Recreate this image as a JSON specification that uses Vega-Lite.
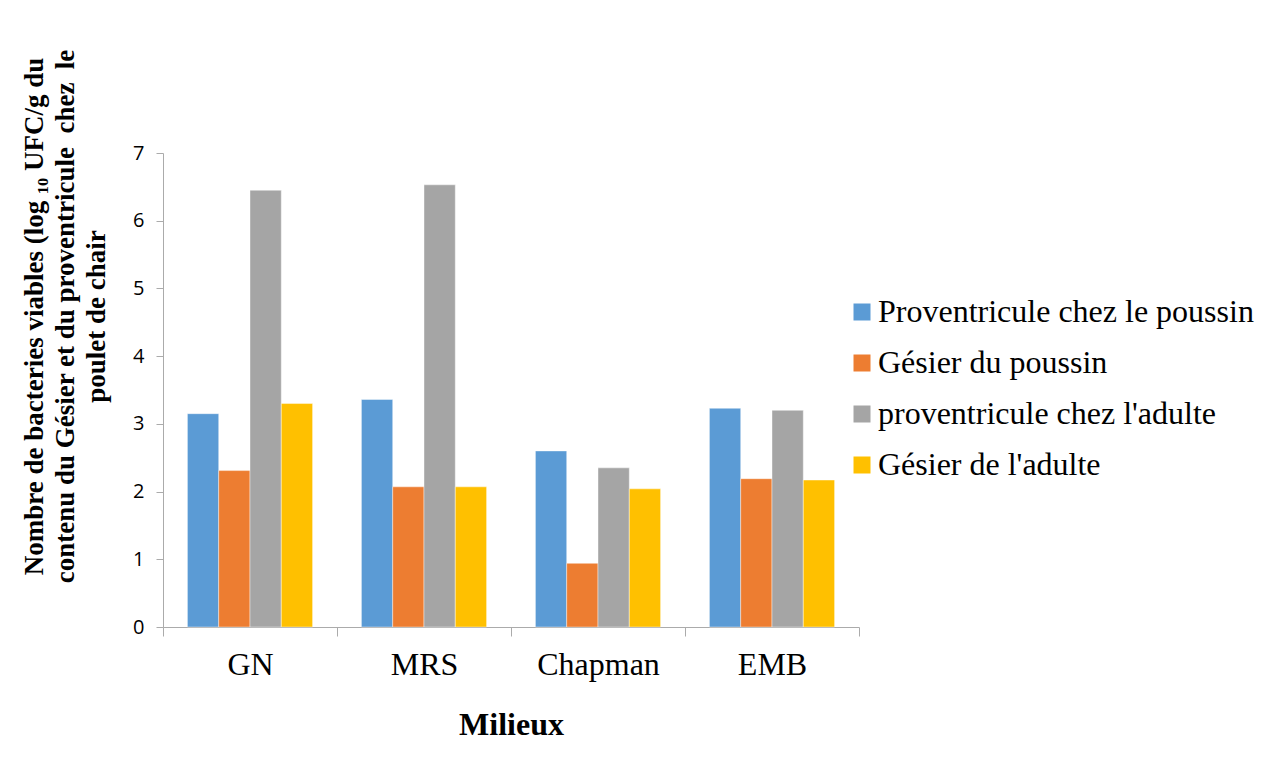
{
  "$schema": "https://vega.github.io/schema/vega-lite/v6.json",
  "width": 696,
  "height": 474,
  "autosize": {"type": "none"},
  "padding": {"left": 163, "top": 153, "right": 411, "bottom": 132},
  "background": "white",
  "data": {
    "values": [
      {"milieu": "GN", "serie": "Proventricule chez le poussin", "valeur": 3.15},
      {"milieu": "GN", "serie": "\u2002Gésier du poussin", "valeur": 2.31},
      {"milieu": "GN", "serie": "proventricule chez l'adulte", "valeur": 6.45},
      {"milieu": "GN", "serie": "Gésier de l'adulte", "valeur": 3.3},
      {"milieu": "MRS", "serie": "Proventricule chez le poussin", "valeur": 3.36},
      {"milieu": "MRS", "serie": "\u2002Gésier du poussin", "valeur": 2.07},
      {"milieu": "MRS", "serie": "proventricule chez l'adulte", "valeur": 6.53},
      {"milieu": "MRS", "serie": "Gésier de l'adulte", "valeur": 2.07},
      {"milieu": "Chapman", "serie": "Proventricule chez le poussin", "valeur": 2.6},
      {"milieu": "Chapman", "serie": "\u2002Gésier du poussin", "valeur": 0.94},
      {"milieu": "Chapman", "serie": "proventricule chez l'adulte", "valeur": 2.35},
      {"milieu": "Chapman", "serie": "Gésier de l'adulte", "valeur": 2.04},
      {"milieu": "EMB", "serie": "Proventricule chez le poussin", "valeur": 3.23},
      {"milieu": "EMB", "serie": "\u2002Gésier du poussin", "valeur": 2.19},
      {"milieu": "EMB", "serie": "proventricule chez l'adulte", "valeur": 3.2},
      {"milieu": "EMB", "serie": "Gésier de l'adulte", "valeur": 2.17}
    ]
  },
  "mark": {"type": "bar", "stroke": "white", "strokeWidth": 0.6, "strokeOpacity": 0.7},
  "encoding": {
    "x": {
      "field": "milieu",
      "type": "nominal",
      "sort": ["GN", "MRS", "Chapman", "EMB"],
      "scale": {"paddingInner": 0, "paddingOuter": 0},
      "title": "Milieux",
      "axis": {
        "labelAngle": 0,
        "labelFont": "Liberation Serif",
        "labelFontSize": 32,
        "labelColor": "black",
        "labelPadding": 13,
        "labelBaseline": "top",
        "tickBand": "extent",
        "tickSize": 9,
        "tickColor": "#ABABAB",
        "domainColor": "#ABABAB",
        "titleFont": "Liberation Serif",
        "titleFontSize": 32,
        "titleFontWeight": "bold",
        "titleColor": "black",
        "titleBaseline": "alphabetic",
        "titleY": 107
      }
    },
    "xOffset": {
      "field": "serie",
      "type": "nominal",
      "sort": ["Proventricule chez le poussin", "\u2002Gésier du poussin", "proventricule chez l'adulte", "Gésier de l'adulte"],
      "scale": {"paddingInner": 0, "paddingOuter": 0.78}
    },
    "y": {
      "field": "valeur",
      "type": "quantitative",
      "scale": {"domain": [0, 7]},
      "title": [
        "Nombre de bacteries viables (log ₁₀ UFC/g du",
        "contenu du Gésier et du proventricule\u00a0 chez\u00a0 le",
        "poulet de chair"
      ],
      "axis": {
        "values": [0, 1, 2, 3, 4, 5, 6, 7],
        "grid": false,
        "labelFont": "Open Sans",
        "labelFontSize": 20,
        "labelColor": "black",
        "labelPadding": 12,
        "tickSize": 7,
        "tickColor": "#ABABAB",
        "domainColor": "#ABABAB",
        "titleFont": "Liberation Serif",
        "titleFontSize": 27,
        "titleFontWeight": "bold",
        "titleColor": "black",
        "titleLineHeight": 31,
        "titleAngle": 270,
        "titleAlign": "center",
        "titleBaseline": "alphabetic",
        "titleX": -121,
        "titleY": 163
      }
    },
    "color": {
      "field": "serie",
      "type": "nominal",
      "scale": {
        "domain": ["Proventricule chez le poussin", "\u2002Gésier du poussin", "proventricule chez l'adulte", "Gésier de l'adulte"],
        "range": ["#5B9BD5", "#ED7D31", "#A5A5A5", "#FFC000"]
      },
      "legend": {
        "title": null,
        "orient": "none",
        "legendX": 683,
        "legendY": 143,
        "padding": 0,
        "symbolType": "square",
        "symbolSize": 289,
        "symbolStrokeWidth": 0,
        "labelFont": "Liberation Serif",
        "labelFontSize": 32,
        "labelColor": "black",
        "labelOffset": 0,
        "labelLimit": 600,
        "rowPadding": 19
      }
    }
  },
  "config": {"view": {"stroke": null}}
}
